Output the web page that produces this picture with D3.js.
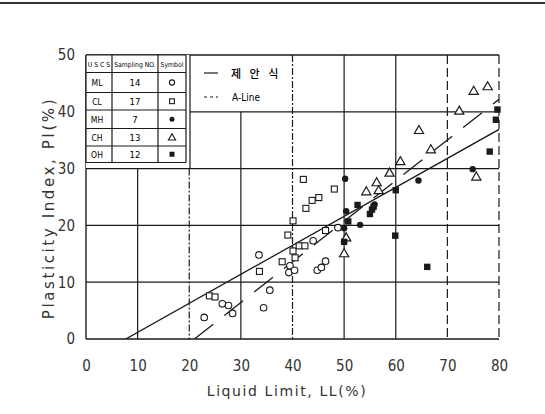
<!DOCTYPE html>
<html><head><meta charset="utf-8">
<script src="https://cdn.jsdelivr.net/npm/d3@7"></script>
<style>body{margin:0;background:#fff}svg{display:block}</style>
</head><body>
<script>
// ---- data ----
const xTicks = [0,10,20,30,40,50,60,70,80];
const yTicks = [0,10,20,30,40,50];
const uscs = ["ML","CL","MH","CH","OH"];
const samplingNo = ["14","17","7","13","12"];
const mlPoints = [[22.9,3.8],[26.4,6.2],[27.6,5.9],[28.4,4.5],[33.5,14.8],[35.6,8.6],[34.4,5.5],[39.5,12.9],[39.3,11.7],[40.4,12.1],[44.0,17.3],[44.8,12.1],[45.6,12.6],[46.4,13.7],[48.8,19.6]];
const clPoints = [[23.9,7.6],[25.0,7.4],[33.6,11.9],[38.0,13.6],[40.1,20.8],[39.1,18.3],[40.1,15.5],[40.5,14.3],[41.3,16.4],[42.4,16.4],[42.6,23.0],[43.8,24.4],[45.1,24.9],[48.1,26.4],[42.1,28.1],[46.4,19.1]];
const mhPoints = [[50.2,28.2],[64.4,27.9],[74.9,29.9],[55.9,23.7],[50.4,22.5],[50.0,19.5],[53.1,20.1]];
const chPoints = [[75.1,43.7],[77.8,44.5],[72.3,40.2],[75.6,28.6],[66.8,33.4],[64.5,36.8],[60.9,31.3],[58.8,29.3],[56.3,27.6],[54.3,26.0],[56.7,26.2],[50.4,17.9],[50.0,15.1]];
const ohPoints = [[52.6,23.6],[55.4,22.8],[55.0,22.0],[55.7,23.3],[50.8,20.7],[50.0,17.1],[59.9,18.2],[66.1,12.7],[60.0,26.2],[79.7,40.4],[79.4,38.6],[78.2,33.0]];
const proposedLine = [[7.7,0],[80,36.9]];
const aLine = [[21,0],[80,42.2]];

// ---- chart ----
const W=545,H=414;
const svg=d3.select("body").append("svg").attr("width",W).attr("height",H);
const x=d3.scaleLinear().domain([0,80]).range([86,499]);
const y=d3.scaleLinear().domain([0,50]).range([339,55]);
const ink="#1a1a1a";
const narrow="'Liberation Sans Narrow','DejaVu Sans Condensed',sans-serif";
const cond="'DejaVu Sans Condensed','Liberation Sans Narrow',sans-serif";

// scan header line
svg.append("rect").attr("x",0).attr("y",2).attr("width",W).attr("height",2).attr("fill","#333");

const defs=svg.append("defs");
defs.append("clipPath").attr("id","plot").append("rect")
  .attr("x",x(0)).attr("y",y(50)).attr("width",x(80)-x(0)).attr("height",y(0)-y(50));

const g=svg.append("g");
const vStyle={10:null,20:"7,2,2,2",30:null,40:"7,2,2,2",50:null,60:null,70:"9,4",80:"9,4"};
const vTop={10:y(30),20:y(30),30:y(40)};
[10,20,30,40,50,60,70,80].forEach(v=>{
  g.append("line").attr("x1",x(v)).attr("x2",x(v))
   .attr("y1",vTop[v]!==undefined?vTop[v]:y(50)).attr("y2",y(0))
   .attr("stroke",ink).attr("stroke-width",1.2)
   .attr("stroke-dasharray",vStyle[v]);
});
[10,20,30,40].forEach(v=>{
  g.append("line").attr("x1",v===40?190:x(0)).attr("x2",x(80))
   .attr("y1",y(v)).attr("y2",y(v)).attr("stroke",ink).attr("stroke-width",1.2);
});
g.append("line").attr("x1",x(0)).attr("x2",x(0)).attr("y1",y(50)).attr("y2",y(0)).attr("stroke",ink).attr("stroke-width",1.4);
g.append("line").attr("x1",x(0)).attr("x2",x(80)).attr("y1",y(0)).attr("y2",y(0)).attr("stroke",ink).attr("stroke-width",1.6);
g.append("line").attr("x1",x(0)).attr("x2",x(80)).attr("y1",y(50)).attr("y2",y(50)).attr("stroke",ink).attr("stroke-width",1.4);

// axes tick labels
const xAxis=d3.axisBottom(x).tickValues(xTicks).tickSize(0).tickPadding(0);
const xa=svg.append("g").attr("transform",`translate(0,${y(0)+21})`).call(xAxis);
xa.select(".domain").remove();
xa.selectAll("text").attr("font-family",narrow).attr("font-size",15).attr("fill","#333");
const yAxis=d3.axisLeft(y).tickValues(yTicks).tickSize(0).tickPadding(0);
const ya=svg.append("g").attr("transform",`translate(${x(0)-11},0)`).call(yAxis);
ya.select(".domain").remove();
ya.selectAll("text").attr("font-family",narrow).attr("font-size",15).attr("fill","#333");

// axis titles
svg.append("text").attr("x",287).attr("y",396).attr("text-anchor","middle")
  .attr("font-family","'DejaVu Sans',sans-serif").attr("font-size",14).attr("letter-spacing",1.6)
  .attr("fill","#333").text("Liquid Limit, LL(%)");
svg.append("text").attr("transform","translate(54,208) rotate(-90)").attr("text-anchor","middle")
  .attr("font-family","'DejaVu Sans',sans-serif").attr("font-size",15).attr("letter-spacing",2.6)
  .attr("fill","#333").text("Plasticity Index, PI(%)");

// trend lines
const line=d3.line().x(d=>x(d[0])).y(d=>y(d[1]));
const lines=svg.append("g").attr("clip-path","url(#plot)");
lines.append("path").attr("d",line(proposedLine)).attr("fill","none").attr("stroke",ink).attr("stroke-width",1.3);
lines.append("path").attr("d",line(aLine)).attr("fill","none").attr("stroke",ink).attr("stroke-width",1.3).attr("stroke-dasharray","24,14");

// points
const pts=svg.append("g");
function draw(data,type){
  data.forEach(d=>{
    const cx=x(d[0]),cy=y(d[1]);
    if(type==="oc") pts.append("circle").attr("cx",cx).attr("cy",cy).attr("r",3.3).attr("fill","#fff").attr("stroke",ink).attr("stroke-width",1.1);
    if(type==="fc") pts.append("circle").attr("cx",cx).attr("cy",cy).attr("r",3.2).attr("fill",ink);
    if(type==="os") pts.append("rect").attr("x",cx-3).attr("y",cy-3).attr("width",6).attr("height",6).attr("fill","#fff").attr("stroke",ink).attr("stroke-width",1.1);
    if(type==="fs") pts.append("rect").attr("x",cx-3.2).attr("y",cy-3.2).attr("width",6.4).attr("height",6.4).attr("fill",ink);
    if(type==="ot") pts.append("path").attr("d",`M${cx},${cy-4.5}L${cx+4.6},${cy+3.5}L${cx-4.6},${cy+3.5}Z`).attr("fill","#fff").attr("stroke",ink).attr("stroke-width",1.2);
  });
}
draw(mlPoints,"oc");draw(clPoints,"os");draw(mhPoints,"fc");draw(chPoints,"ot");draw(ohPoints,"fs");

// legend table
const tb=svg.append("g");
const cols=[86,112,158,186];
const rows=[55,72.5,92.5,110,128.5,146,162.5];
tb.append("rect").attr("x",86).attr("y",55).attr("width",104).attr("height",113).attr("fill","#fff");
cols.forEach(c=>tb.append("line").attr("x1",c).attr("x2",c).attr("y1",55).attr("y2",162.5).attr("stroke",ink).attr("stroke-width",1.2));
rows.forEach(r=>tb.append("line").attr("x1",86).attr("x2",186).attr("y1",r).attr("y2",r).attr("stroke",ink).attr("stroke-width",1.2));
tb.append("line").attr("x1",190).attr("x2",190).attr("y1",55).attr("y2",y(30)).attr("stroke",ink).attr("stroke-width",1.2);
const hdr=["U S C S","Sampling NO.","Symbol"];
hdr.forEach((t,i)=>tb.append("text").attr("x",(cols[i]+cols[i+1])/2).attr("y",66.5).attr("text-anchor","middle")
  .attr("font-family",cond).attr("font-size",6.8).attr("fill","#000").text(t));
const symTypes=["oc","os","fc","ot","fs"];
uscs.forEach((u,i)=>{
  const cy=(rows[i+1]+rows[i+2])/2;
  tb.append("text").attr("x",97).attr("y",cy+3.3).attr("text-anchor","middle").attr("font-family",cond).attr("font-size",8.5).attr("fill","#000").text(u);
  tb.append("text").attr("x",135).attr("y",cy+3.5).attr("text-anchor","middle").attr("font-family",cond).attr("font-size",9.5).attr("fill","#000").text(samplingNo[i]);
  const cx=172,t=symTypes[i];
  if(t==="oc") tb.append("circle").attr("cx",cx).attr("cy",cy).attr("r",2.6).attr("fill","#fff").attr("stroke",ink).attr("stroke-width",1.1);
  if(t==="os") tb.append("rect").attr("x",cx-2.4).attr("y",cy-2.4).attr("width",4.8).attr("height",4.8).attr("fill","#fff").attr("stroke",ink).attr("stroke-width",1.1);
  if(t==="fc") tb.append("circle").attr("cx",cx).attr("cy",cy).attr("r",2.5).attr("fill",ink);
  if(t==="ot") tb.append("path").attr("d",`M${cx},${cy-3.6}L${cx+3.6},${cy+2.8}L${cx-3.6},${cy+2.8}Z`).attr("fill","#fff").attr("stroke",ink).attr("stroke-width",1.1);
  if(t==="fs") tb.append("rect").attr("x",cx-2.5).attr("y",cy-2.5).attr("width",5).attr("height",5).attr("fill",ink);
});
// line legend
const lg=svg.append("g");
lg.append("line").attr("x1",204).attr("x2",218).attr("y1",73).attr("y2",73).attr("stroke",ink).attr("stroke-width",1.2);
lg.append("line").attr("x1",204).attr("x2",218).attr("y1",97).attr("y2",97).attr("stroke",ink).attr("stroke-width",1.2).attr("stroke-dasharray","3,3");
lg.append("text").attr("x",231).attr("y",77.5).attr("font-family","'Noto Sans CJK KR',sans-serif").attr("font-size",11).attr("font-weight",500).attr("letter-spacing",3).attr("fill","#000").text("제 안 식");
lg.append("text").attr("x",232).attr("y",101).attr("font-family",cond).attr("font-size",10).attr("fill","#000").text("A-Line");
</script>
</body></html>
